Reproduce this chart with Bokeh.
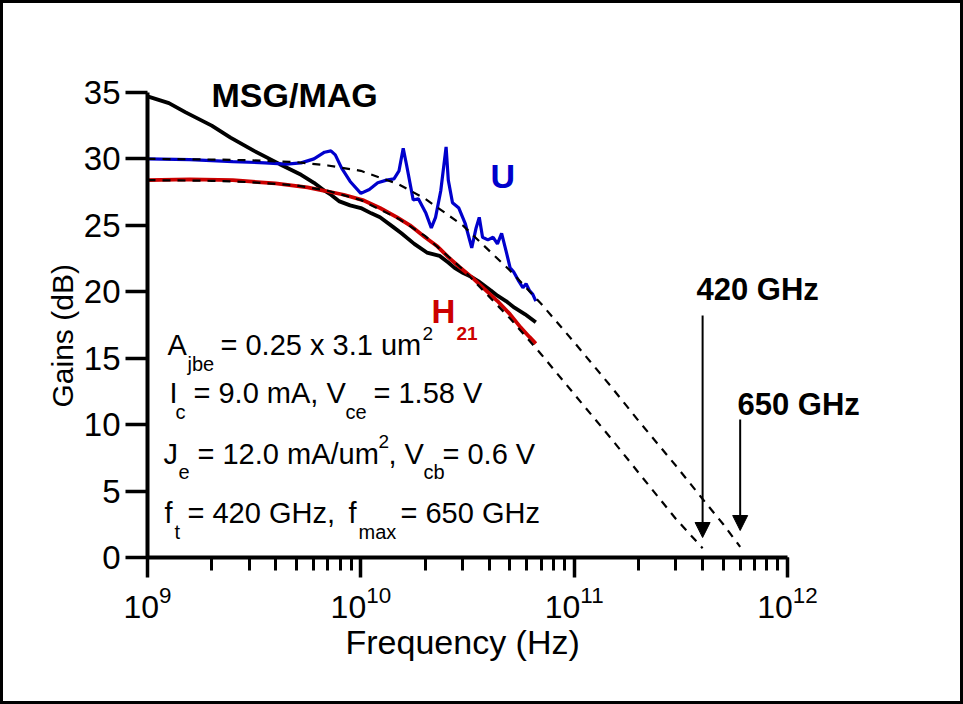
from bokeh.plotting import figure
from bokeh.models import Label, Arrow, NormalHead, FixedTicker, Range1d, Title
from bokeh.embed import file_html
from bokeh.resources import INLINE

# ---------------- data (frequencies in GHz, gains in dB) ----------------
msg_ghz = [1.0, 1.26, 1.51, 2.0, 2.45, 3.16, 4.17, 5.25, 6.03, 6.76, 7.24, 7.94,
           8.91, 10.0, 11.2, 12.3, 14.1, 15.5, 17.8, 20.4, 23.4, 25.7, 27.5, 30.2,
           33.1, 35.5, 40.7, 43.7, 47.9, 52.5, 58.9, 66.1]
msg_db = [34.7, 34.2, 33.5, 32.5, 31.6, 30.6, 29.6, 28.8, 28.2, 27.6, 27.3, 26.8,
          26.5, 26.3, 25.9, 25.6, 24.9, 24.4, 23.6, 22.95, 22.7, 22.2, 21.8, 21.4,
          21.1, 20.8, 20.1, 19.7, 19.3, 18.8, 18.3, 17.7]

h21_ghz = [1.0, 1.58, 2.51, 3.98, 5.62, 6.76, 8.32, 10.2, 12.3, 14.8, 17.0, 20.0,
           22.9, 25.7, 28.8, 33.1, 38.0, 43.7, 50.1, 56.2, 61.7, 66.1]
h21_db = [28.4, 28.45, 28.4, 28.15, 27.85, 27.6, 27.3, 26.9, 26.3, 25.6, 25.0, 24.1,
          23.4, 22.6, 21.9, 21.1, 20.2, 19.3, 18.3, 17.3, 16.6, 16.1]

u_ghz = [1.0, 1.58, 2.51, 3.55, 4.47, 5.25, 6.03, 6.76, 7.24, 7.59, 8.13, 8.91,
         10.0, 10.96, 12.0, 13.2, 14.3, 15.1, 15.8, 16.4, 17.6, 18.6, 20.2, 21.4,
         22.4, 23.7, 25.1, 25.7, 26.9, 28.8, 30.9, 33.1, 34.7, 35.9, 37.2, 39.4,
         41.7, 43.7, 45.7, 47.9, 50.1, 52.0, 55.0, 57.5, 59.5, 61.7, 64.0, 66.1]
u_db = [30.0, 29.95, 29.8, 29.7, 29.6, 29.7, 30.0, 30.5, 30.6, 30.3, 29.3, 28.3,
        27.4, 27.7, 28.2, 28.4, 28.5, 29.1, 30.8, 29.5, 26.9, 27.0, 25.9, 24.8,
        25.6, 27.6, 30.9, 28.4, 26.7, 26.3, 25.1, 23.3, 24.8, 25.6, 24.1, 23.9,
        24.1, 23.6, 24.4, 23.1, 21.8, 21.5, 20.8, 20.3, 20.6, 20.1, 19.8, 19.3]

u_fit_ghz = [1, 2, 3, 5, 7, 10, 15, 20, 30, 50, 70, 100, 150, 200, 300, 400, 500, 600]
u_fit_db = [30.0, 29.95, 29.9, 29.75, 29.5, 29.1, 28.1, 27.0, 25.0, 21.6, 19.1,
            16.2, 12.8, 10.3, 6.9, 4.4, 2.5, 0.8]

h21_fit_ghz = [1, 2, 3, 5, 7, 10, 15, 20, 30, 50, 70, 100, 150, 200, 300, 400]
h21_fit_db = [28.4, 28.35, 28.25, 28.0, 27.6, 26.9, 25.5, 24.2, 21.7, 18.0, 15.3,
              12.3, 8.9, 6.4, 2.9, 0.7]

y_ticks = [0, 5, 10, 15, 20, 25, 30, 35]
arrow_ghz = [400, 600]
arrow_labels = ["420 GHz", "650 GHz"]

BLUE = "#0000CC"
RED = "#CC0000"
FONT = "Liberation Sans"

# ---------------- layout -----
BORDER = 3                    # black frame drawn round the whole picture
W, H = 957, 698               # figure size (the bordered box is 963 x 704)
CW, CH = W + 2 * BORDER, H + 2 * BORDER   # size the canvas is laid out with
YMAX = 36.5                   # frame a little taller than the 0..35 axis
PXDB0 = 465 / 35.0            # px per dB
ML = 144
MT = round(557 - YMAX * PXDB0) - BORDER
MB = CH - (557 - BORDER)      # 0 dB sits at page y 557
MR = 46
DEC = 640 / 3.0               # px per decade (1e9 .. 1e12 spans 640 px)
FX0 = BORDER + ML             # page x of 1e9
FY0 = 557                     # page y of 0 dB
PXDB = (CH - MT - MB) / YMAX
XMAX = 10 ** (9 + (CW - ML - MR) / DEC)


def fx(px):
    return 10 ** (9 + (px - FX0) / DEC)


def fy(py):
    return (FY0 - py) / PXDB


p = figure(width=W, height=H, x_axis_type="log",
           x_range=Range1d(1e9, XMAX), y_range=Range1d(0, YMAX),
           output_backend="svg", toolbar_location=None,
           min_border_left=ML, min_border_right=MR,
           min_border_top=MT, min_border_bottom=MB)
p.outline_line_color = None
p.xgrid.visible = False
p.ygrid.visible = False
p.background_fill_color = "white"
p.border_fill_color = "white"
p.styles = {"border": f"{BORDER}px solid black", "box-sizing": "content-box"}


def hz(lst):
    return [v * 1e9 for v in lst]


p.line(hz(msg_ghz), msg_db, line_color="black", line_width=3.8)
p.line(hz(h21_ghz), h21_db, line_color=RED, line_width=3.8)
p.line(hz(u_ghz), u_db, line_color=BLUE, line_width=3.2)
p.line(hz(u_fit_ghz), u_fit_db, line_color="black", line_width=2.2, line_dash="8 7")
p.line(hz(h21_fit_ghz), h21_fit_db, line_color="black", line_width=2.2, line_dash="8 7")

# ---------------- axes ----------------
xa = p.xaxis[0]
xa.bounds = (1e9, 1e12)
xa.major_label_text_font = FONT
xa.major_label_text_font_size = "32px"
xa.major_label_text_color = "black"
xa.major_label_standoff = 8
xa.axis_line_width = 4
xa.axis_line_color = "black"
xa.major_tick_line_width = 3.5
xa.minor_tick_line_width = 3
xa.major_tick_line_color = "black"
xa.minor_tick_line_color = "black"
xa.major_tick_out = 20
xa.major_tick_in = 0
xa.minor_tick_out = 13
xa.minor_tick_in = 0

# axis titles placed along the axis spans (the frame is a bit larger than them)
p.add_layout(Title(text="Frequency (Hz)", align="left", offset=198,
                   text_font=FONT, text_font_size="34px", text_font_style="normal",
                   text_color="black", standoff=0), "below")

ya = p.yaxis[0]
ya.bounds = (0, 35)
ya.ticker = FixedTicker(ticks=y_ticks)
ya.major_label_text_font = FONT
ya.major_label_text_font_size = "33px"
ya.major_label_text_color = "black"
ya.major_label_standoff = 5
ya.axis_line_width = 4
ya.axis_line_color = "black"
ya.major_tick_line_width = 3.5
ya.major_tick_line_color = "black"
ya.major_tick_out = 22
ya.major_tick_in = 0
ya.minor_tick_line_color = None

p.add_layout(Title(text="Gains (dB)", align="left", offset=150,
                   text_font=FONT, text_font_size="30px", text_font_style="normal",
                   text_color="black", standoff=4), "left")

# ---------------- annotations ----------------


def lab(t, px, py, size, color="black", style="normal"):
    # (px, py): left end of the text baseline, in picture pixels
    p.add_layout(Label(x=fx(px), y=fy(py - 0.35 * size), text=t, text_font=FONT,
                       text_font_size=f"{size}px", text_color=color,
                       text_font_style=style, text_baseline="alphabetic",
                       text_align="left"))


lab("MSG/MAG", 211, 106, 34, style="bold")
lab("U", 490, 187, 34, color=BLUE, style="bold")
lab("H", 431, 323, 33, color=RED, style="bold")
lab("21", 456, 340, 19, color=RED, style="bold")

# parameter block
S, s = 29, 20
lab("A", 167, 355, S); lab("jbe", 187, 370, s); lab("= 0.25 x 3.1 um", 220, 355, S)
lab("2", 422, 340, 19)
lab("I", 169, 403, S); lab("c", 175, 418, s); lab("= 9.0 mA, V", 193, 403, S)
lab("ce", 345, 418, s); lab("= 1.58 V", 373, 403, S)
lab("J", 163, 464, S); lab("e", 178, 478, s); lab("= 12.0 mA/um", 197, 464, S)
lab("2", 378, 448, 19); lab(", V", 388, 464, S); lab("cb", 423, 478, s)
lab("= 0.6 V", 442, 464, S)
lab("f", 164, 523, S); lab("t", 174, 538, s); lab("= 420 GHz,", 187, 523, S)
lab("f", 348, 523, S); lab("max", 358, 538, s); lab("= 650 GHz", 400, 523, S)

# arrows to the extrapolated crossings
arrow_start_py = [315, 419]
arrow_end_py = [537, 530]
label_px = [696, 737]
label_py = [300, 415]
for g, t, sp, ep, lx, ly in zip(arrow_ghz, arrow_labels, arrow_start_py,
                                arrow_end_py, label_px, label_py):
    p.add_layout(Arrow(end=NormalHead(size=15, fill_color="black",
                                      line_color="black", line_width=1),
                       x_start=g * 1e9, y_start=fy(sp), x_end=g * 1e9, y_end=fy(ep),
                       line_color="black", line_width=2))
    lab(t, lx, ly, 31, style="bold")

open("out.html", "w").write(file_html(p, INLINE))
